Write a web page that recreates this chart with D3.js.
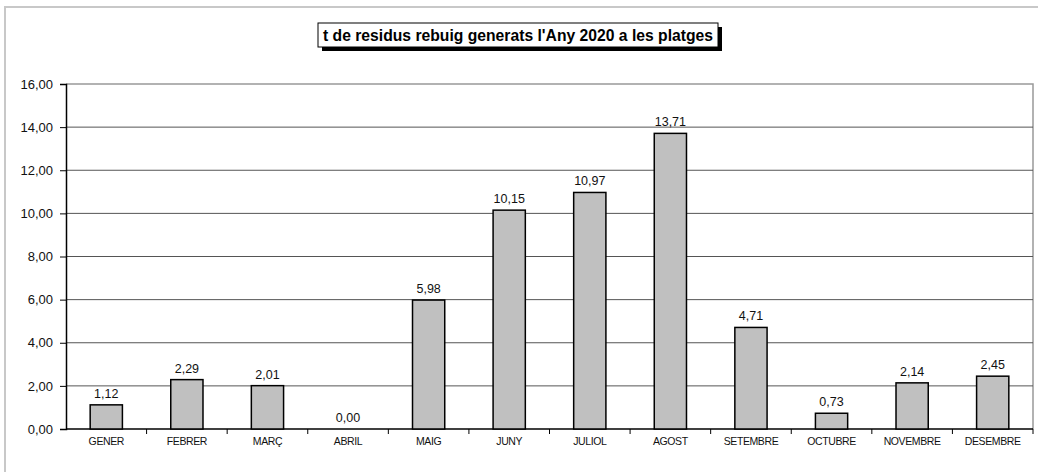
<!DOCTYPE html>
<html>
<head>
<meta charset="utf-8">
<script src="https://cdn.jsdelivr.net/npm/d3@7"></script>
<style>
  body { margin: 0; background: #fff; }
  text { font-family: "Liberation Sans", Arial, sans-serif; }
</style>
</head>
<body>
<div id="chart"></div>
<script>
// chart data
var months = ["GENER", "FEBRER", "MARÇ", "ABRIL", "MAIG", "JUNY", "JULIOL", "AGOST", "SETEMBRE", "OCTUBRE", "NOVEMBRE", "DESEMBRE"];
var tonnes = [1.12, 2.29, 2.01, 0.00, 5.98, 10.15, 10.97, 13.71, 4.71, 0.73, 2.14, 2.45];
var yTicks = [0, 2, 4, 6, 8, 10, 12, 14, 16];
var title = "t de residus rebuig generats l'Any 2020 a les platges";

var W = 1038, H = 472;
var margin = { top: 84, right: 5, bottom: 43, left: 66 };
var width = W - margin.left - margin.right,
    height = H - margin.top - margin.bottom;

function fmt(v) { return v.toFixed(2).replace(".", ","); }

var svg = d3.select("#chart").append("svg")
    .attr("width", W)
    .attr("height", H);

// outer frame
svg.append("rect")
    .attr("x", 5).attr("y", 7)
    .attr("width", W + 10).attr("height", H + 10)
    .attr("fill", "none")
    .attr("stroke", "#c8c8c8")
    .attr("stroke-width", 2);

var xb = d3.scaleBand().domain(months).range([0, width]);   // one slot per month
var y = d3.scaleLinear().domain([0, 16]).range([height, 0]);

var g = svg.append("g")
    .attr("transform", "translate(" + margin.left + "," + margin.top + ")");

// plot area border (top / right)
g.append("path")
    .attr("d", "M0,0H" + width + "V" + height)
    .attr("fill", "none")
    .attr("stroke", "#999")
    .attr("stroke-width", 1.5);

// gridlines
g.selectAll("line.grid")
    .data(yTicks.filter(function (d) { return d > 0 && d < 16; }))
    .enter().append("line")
    .attr("class", "grid")
    .attr("x1", 0).attr("x2", width)
    .attr("y1", function (d) { return y(d); })
    .attr("y2", function (d) { return y(d); })
    .attr("stroke", "#555")
    .attr("stroke-width", 1);

// y axis
var yAxis = g.append("g")
    .call(d3.axisLeft(y).tickValues(yTicks).tickFormat(fmt).tickSize(6).tickPadding(7));
yAxis.select(".domain").attr("stroke", "#000").attr("stroke-width", 1.5);
yAxis.selectAll(".tick line").attr("stroke", "#000");
yAxis.selectAll("text").attr("font-size", 13).attr("fill", "#111")
    .attr("font-family", "'Liberation Sans', Arial, sans-serif");

// x axis line and ticks between categories
var xAxis = g.append("g").attr("transform", "translate(0," + height + ")");
xAxis.append("line").attr("x1", 0).attr("x2", width).attr("stroke", "#000").attr("stroke-width", 1.5);
xAxis.selectAll("line.tk")
    .data(months)
    .enter().append("line")
    .attr("class", "tk")
    .attr("x1", function (d) { return xb(d) + xb.bandwidth(); })
    .attr("x2", function (d) { return xb(d) + xb.bandwidth(); })
    .attr("y1", 0).attr("y2", 5)
    .attr("stroke", "#000");
xAxis.selectAll("text")
    .data(months)
    .enter().append("text")
    .attr("x", function (d) { return xb(d) + xb.bandwidth() / 2; })
    .attr("y", 16)
    .attr("text-anchor", "middle")
    .attr("font-size", 10.5)
    .attr("letter-spacing", -0.4)
    .attr("fill", "#111")
    .text(function (d) { return d; });

// bars
g.selectAll("rect.bar")
    .data(tonnes)
    .enter().append("rect")
    .attr("class", "bar")
    .attr("x", function (d, i) { return xb(months[i]) + xb.bandwidth() * 0.3; })
    .attr("width", xb.bandwidth() * 0.4)
    .attr("y", function (d) { return y(d); })
    .attr("height", function (d) { return height - y(d); })
    .attr("fill", "#c0c0c0")
    .attr("stroke", function (d) { return d > 0 ? "#000" : "none"; })
    .attr("stroke-width", 1.5);

// value labels
g.selectAll("text.val")
    .data(tonnes)
    .enter().append("text")
    .attr("class", "val")
    .attr("x", function (d, i) { return xb(months[i]) + xb.bandwidth() / 2; })
    .attr("y", function (d) { return y(d) - 7; })
    .attr("text-anchor", "middle")
    .attr("font-size", 12.5)
    .attr("fill", "#111")
    .text(fmt);

// title box with shadow
var tb = { x: 318, y: 23, w: 400, h: 24 };
svg.append("rect")
    .attr("x", tb.x + 4).attr("y", tb.y + 4)
    .attr("width", tb.w).attr("height", tb.h)
    .attr("fill", "#000");
svg.append("rect")
    .attr("x", tb.x).attr("y", tb.y)
    .attr("width", tb.w).attr("height", tb.h)
    .attr("fill", "#fff")
    .attr("stroke", "#000")
    .attr("stroke-width", 1);
svg.append("text")
    .attr("x", tb.x + tb.w / 2)
    .attr("y", tb.y + 17.5)
    .attr("text-anchor", "middle")
    .attr("font-size", 15.7)
    .attr("font-weight", "bold")
    .attr("fill", "#000")
    .text(title);
</script>
</body>
</html>
